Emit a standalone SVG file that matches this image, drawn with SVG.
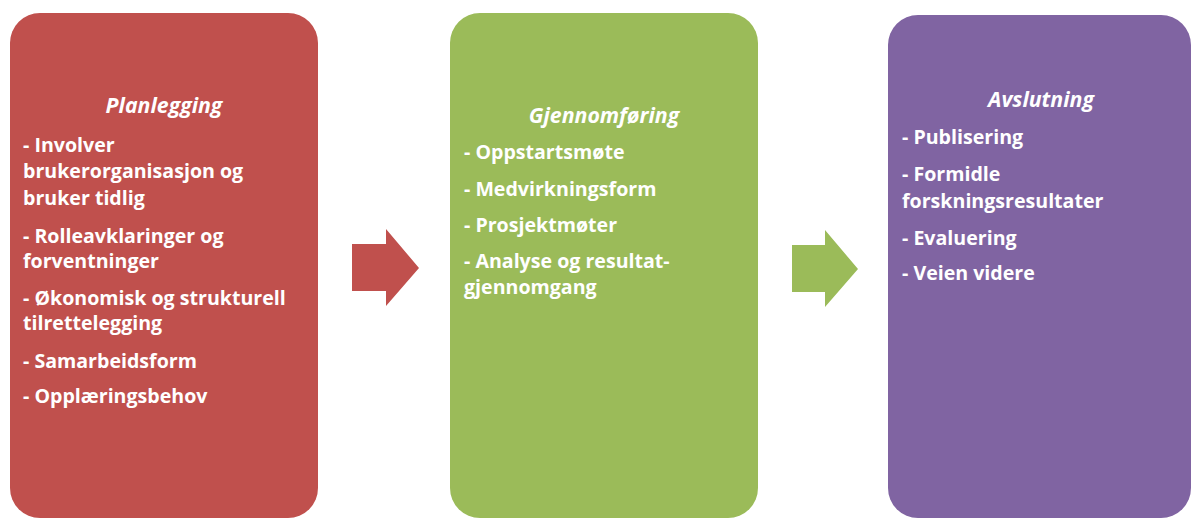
<svg xmlns="http://www.w3.org/2000/svg" width="1192" height="518" viewBox="0 0 1192 518">
<style>
.t{font-family:"Open Sans","Liberation Sans",sans-serif;font-weight:bold;font-size:19.6px;fill:#fff}
.h{font-style:italic;text-anchor:middle;font-size:21.3px}
</style>
<rect width="1192" height="518" fill="#fff"/>
<g id="planlegging">
<rect x="10" y="13" width="308" height="505" rx="30" fill="#C0504D"/>
<text class="t h" x="164" y="113">Planlegging</text>
<text class="t" x="23" y="152">- Involver</text>
<text class="t" x="23" y="178">brukerorganisasjon og</text>
<text class="t" x="23" y="205">bruker tidlig</text>
<text class="t" x="23" y="243">- Rolleavklaringer og</text>
<text class="t" x="23" y="268">forventninger</text>
<text class="t" x="23" y="305">- Økonomisk og strukturell</text>
<text class="t" x="23" y="330">tilrettelegging</text>
<text class="t" x="23" y="368">- Samarbeidsform</text>
<text class="t" x="23" y="403">- Opplæringsbehov</text>
</g>
<g id="gjennomforing">
<rect x="450" y="13" width="308" height="505" rx="30" fill="#9BBB59"/>
<text class="t h" x="604" y="123">Gjennomføring</text>
<text class="t" x="464" y="159">- Oppstartsmøte</text>
<text class="t" x="464" y="196">- Medvirkningsform</text>
<text class="t" x="464" y="232">- Prosjektmøter</text>
<text class="t" x="464" y="268">- Analyse og resultat-</text>
<text class="t" x="464" y="294">gjennomgang</text>
</g>
<g id="avslutning">
<rect x="888" y="15" width="303" height="503" rx="30" fill="#8064A2"/>
<text class="t h" x="1041" y="107">Avslutning</text>
<text class="t" x="902" y="144">- Publisering</text>
<text class="t" x="902" y="181">- Formidle</text>
<text class="t" x="902" y="208">forskningsresultater</text>
<text class="t" x="902" y="245">- Evaluering</text>
<text class="t" x="902" y="280">- Veien videre</text>
</g>
<g id="connectors">
<polygon points="352,244 386,244 386,229 419,268 386,306 386,291 352,291" fill="#C0504D"/>
<polygon points="792,245 825,245 825,230 858,269 825,307 825,292 792,292" fill="#9BBB59"/>
</g>
</svg>
